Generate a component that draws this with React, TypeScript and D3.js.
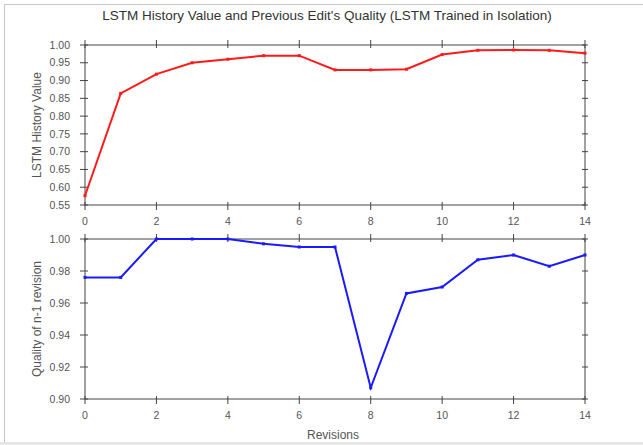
import React from "react";
import * as d3 from "d3";

const revisions = [0, 1, 2, 3, 4, 5, 6, 7, 8, 9, 10, 11, 12, 13, 14];
const historyValue = [0.576, 0.864, 0.918, 0.95, 0.96, 0.97, 0.97, 0.93, 0.93, 0.932, 0.973, 0.985, 0.986, 0.985, 0.977];
const prevQuality = [0.976, 0.976, 1.0, 1.0, 1.0, 0.997, 0.995, 0.995, 0.907, 0.966, 0.97, 0.987, 0.99, 0.983, 0.99];
const xTicks = [0, 2, 4, 6, 8, 10, 12, 14];
const topYTicks = [0.55, 0.6, 0.65, 0.7, 0.75, 0.8, 0.85, 0.9, 0.95, 1.0];
const botYTicks = [0.9, 0.92, 0.94, 0.96, 0.98, 1.0];

const W = 643;
const H = 445;
const L = 85;
const R = 585;
const FONT = "'Liberation Sans', Arial, sans-serif";
const AX = "#444";
const TXT = "#555";

function Panel({ top, bottom, yDomain, yTicks, values, color, ylabel }: any) {
  const x = d3.scaleLinear().domain([0, 14]).range([L, R]);
  const y = d3.scaleLinear().domain(yDomain).range([bottom, top]);
  const line = d3
    .line<number>()
    .x((_, i) => x(revisions[i]))
    .y((v) => y(v));
  return (
    <g>
      <defs>
        <clipPath id={"clip" + top}>
          <rect x={L - 3} y={top - 3} width={R - L + 6} height={bottom - top + 6} />
        </clipPath>
      </defs>
      <rect x={L} y={top} width={R - L} height={bottom - top} fill="none" stroke={AX} strokeWidth={1} />
      {xTicks.map((t) => (
        <g key={"x" + t}>
          <line x1={x(t)} x2={x(t)} y1={bottom - 3} y2={bottom + 5} stroke={AX} />
          <line x1={x(t)} x2={x(t)} y1={top - 5} y2={top + 3} stroke={AX} />
          <text x={x(t)} y={bottom + 20} textAnchor="middle" fontSize={10.5} fill={TXT} fontFamily={FONT}>
            {t}
          </text>
        </g>
      ))}
      {yTicks.map((t: number) => (
        <g key={"y" + t}>
          <line x1={L - 5} x2={L + 3} y1={y(t)} y2={y(t)} stroke={AX} />
          <line x1={R - 3} x2={R + 3} y1={y(t)} y2={y(t)} stroke={AX} />
          <text x={L - 15} y={y(t)} dy="0.35em" textAnchor="end" fontSize={10.5} fill={TXT} fontFamily={FONT}>
            {t.toFixed(2)}
          </text>
        </g>
      ))}
      <text
        transform={`translate(41,${(top + bottom) / 2}) rotate(-90)`}
        textAnchor="middle"
        fontSize={12}
        fill={TXT}
        fontFamily={FONT}
      >
        {ylabel}
      </text>
      <g clipPath={`url(#clip${top})`}>
        <path d={line(values) || ""} fill="none" stroke={color} strokeWidth={2} />
        {values.map((v: number, i: number) => (
          <rect key={i} x={x(revisions[i]) - 1.5} y={y(v) - 1.5} width={3} height={3} fill={color} />
        ))}
      </g>
    </g>
  );
}

export default function App() {
  return (
    <svg width={W} height={H} style={{ position: "absolute", left: 0, top: 0, background: "#fff" }}>
      <line x1={4.5} x2={4.5} y1={4} y2={442} stroke="#c8c8c8" />
      <line x1={4} x2={W} y1={4.5} y2={4.5} stroke="#c8c8c8" />
      <rect x={0} y={442} width={W} height={3} fill="#e6e6e6" />
      <text x={327} y={20} textAnchor="middle" fontSize={13.5} fill="#333" fontFamily={FONT}>
        LSTM History Value and Previous Edit's Quality (LSTM Trained in Isolation)
      </text>
      <Panel
        top={45}
        bottom={205}
        yDomain={[0.55, 1.0]}
        yTicks={topYTicks}
        values={historyValue}
        color="#ff1a1a"
        ylabel="LSTM History Value"
      />
      <Panel
        top={239}
        bottom={399}
        yDomain={[0.9, 1.0]}
        yTicks={botYTicks}
        values={prevQuality}
        color="#1a1aff"
        ylabel="Quality of n-1 revision"
      />
      <text x={333} y={439} textAnchor="middle" fontSize={12} fill={TXT} fontFamily={FONT}>
        Revisions
      </text>
    </svg>
  );
}
